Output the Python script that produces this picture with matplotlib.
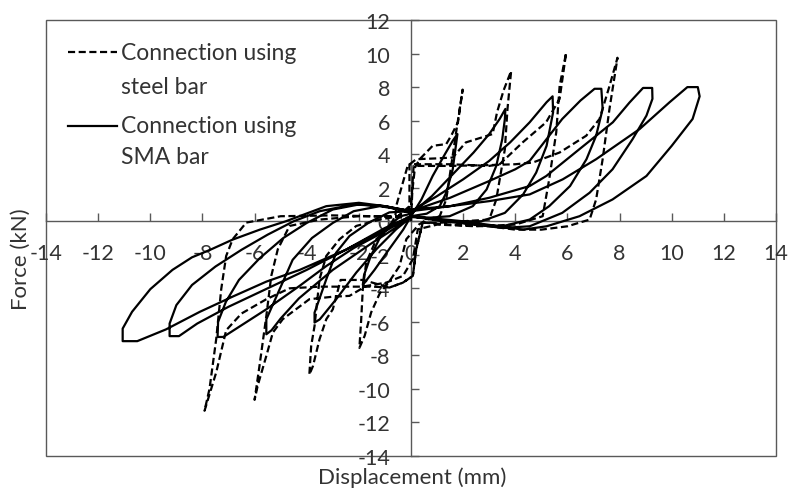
import matplotlib
matplotlib.use('Agg')
import matplotlib.pyplot as plt
from matplotlib.patches import Rectangle

plt.rcParams['font.family']=['Lato','DejaVu Sans']

#SMA bar connection, one list pair per cycle (displacement mm, force kN)
sma_c1_x=[0,0.4,0.83,1.3,1.6,1.78, 1.6,1.35,1.1,0.6,0, -0.3,-0.9,-1.4,-1.7,-1.85, -1.8,-1.55,-1.2,-0.8,-0.4,0]
sma_c1_y=[0.3,1.3,2.7,4.0,4.8,5.2, 3.1,1.7,0.9,0.45,0.3, -0.5,-1.8,-2.9,-3.5,-3.8, -3.2,-2.1,-1.0,-0.2,0.3,0.45]

sma_c2_x=[0.8,1.6,2.4,3.0,3.4,3.62, 3.6,3.5,3.27,2.9,2.37,1.48,0.6,0, -0.57,-1.33,-2.1,-2.87,-3.5,-3.7, -3.7,-3.25,-2.87,-2.36,-1.6,-0.83,0]
sma_c2_y=[1.5,2.8,4.1,5.2,6.1,6.7, 6.1,4.9,3.3,1.9,0.9,0.3,0.2,0.25, -0.48,-1.67,-3.06,-4.65,-5.85,-6.04, -5.45,-3.46,-1.87,-0.88,-0.06,0.53,0.6]

sma_c3_x=[1.0,2.0,3.0,3.8,4.55,4.93,5.2,5.43, 5.45,5.3,5.2,4.8,4.3,3.6,2.7,1.5,0.5,0, -0.6,-1.5,-3.0,-4.3,-5.0,-5.35,-5.55, -5.55,-5.04,-4.54,-3.8,-3.0,-2.2,-1.2,0]
sma_c3_y=[1.5,2.5,3.6,4.7,5.9,6.6,7.1,7.45, 6.5,5.3,4.5,2.9,1.6,0.5,0.0,0.0,0.2,0.3, -0.4,-1.3,-2.9,-4.6,-5.8,-6.5,-6.74, -5.85,-4.05,-2.3,-1.0,-0.1,0.6,0.9,0.6]

sma_c4_x=[1.5,3.0,4.0,4.55,5.2,5.8,6.5,7.04,7.3, 7.35,7.1,6.73,6.1,5.3,4.55,3.5,2.5,1.2,0, -1.0,-2.2,-3.25,-4.28,-5.55,-6.84,-7.2,-7.42, -7.4,-7.1,-6.6,-5.8,-4.9,-4.0,-3.0,-2.0,-1.0,0]
sma_c4_y=[1.4,2.4,3.1,3.6,4.9,6.1,7.2,7.9,7.9, 6.7,5.1,3.7,2.1,0.9,0.1,-0.3,-0.2,0.0,0.3, -0.6,-1.6,-2.67,-3.86,-5.25,-6.54,-6.9,-6.9, -6.0,-4.8,-3.5,-2.2,-1.0,-0.1,0.7,1.0,0.9,0.6]

sma_c5_x=[1.5,3.0,4.55,5.19,6.46,7.74,8.38,8.9,9.25, 9.26,9.03,8.5,7.73,6.85,5.8,4.55,3.5,2.0,0, -1.0,-2.5,-4.0,-5.5,-7.0,-8.2,-8.9,-9.26, -9.26,-9.0,-8.4,-7.5,-6.5,-5.5,-4.5,-3.5,-2.2,-1.0,0]
sma_c5_y=[0.9,1.4,2.1,2.7,4.3,5.9,7.08,7.95,7.95, 7.3,6.3,4.9,3.1,1.7,0.5,-0.3,-0.4,-0.1,0.3, -0.5,-1.7,-2.9,-4.0,-5.1,-6.1,-6.85,-6.85, -6.1,-5.0,-3.8,-2.7,-1.7,-0.8,0.0,0.6,1.0,0.9,0.6]

sma_c6_x=[0,1.5,3.0,4.55,5.82,7.1,8.77,9.92,10.6,11.0, 11.07,10.8,10.0,9.03,7.73,6.46,5.2,4.3,3.4,2.0,0, -1.0,-2.5,-4.27,-5.55,-6.85,-8.1,-9.4,-10.5,-11.06, -11.06,-10.7,-10.0,-9.15,-8.4,-7.7,-6.85,-5.8,-4.8,-3.25,-2.0,-1.0,0]
sma_c6_y=[0.7,0.9,1.2,1.6,2.5,3.7,5.5,7.1,8.0,8.0, 7.45,6.1,4.5,2.7,1.3,0.3,-0.3,-0.5,-0.3,0.0,0.3, -0.4,-1.7,-2.9,-3.6,-4.5,-5.4,-6.45,-7.15,-7.15, -6.4,-5.4,-4.05,-2.9,-2.15,-1.7,-1.1,-0.5,0.0,0.9,1.1,0.9,0.5]

#steel bar connection
steel_c1_x=[0,0.05,0.15,0.33,0.83,1.35,1.54,1.8,1.98, 1.73,1.54,1.35,1.1,0.6,0.3,-0.18,-0.44,-0.82,-1.2,-1.53,-1.78,-1.98, -1.91,-1.85,-1.72,-1.33,-0.82,-0.6]
steel_c1_y=[0,1.8,3.2,3.7,4.5,4.6,5.1,5.9,7.85, 5.3,3.3,1.3,0.3,0.1,-0.2,-1.07,-2.67,-3.56,-4.3,-5.44,-6.84,-7.55, -5.84,-4.05,-2.47,-1.07,-0.28,0.3]

steel_c2_x=[-0.57,-0.13,0.2,1.0,1.6,2.1,3.13,3.3,3.55,3.84, 3.7,3.6,3.27,3.0,2.0,1.0,0.45,0.2,0.07,-0.31,-0.82,-1.85,-2.7,-3.0,-3.25,-3.51,-3.76,-3.9, -3.83,-3.7,-3.51,-3.25,-2.74,-2.1,-1.2,-0.5,-0.06]
steel_c2_y=[0.9,3.3,3.7,3.75,3.8,4.7,5.2,6.5,7.8,8.96, 6.7,4.3,1.3,0.1,0.0,-0.1,-0.08,-1.67,-3.26,-3.66,-3.95,-3.5,-3.5,-5.25,-5.84,-7.04,-8.63,-9.15, -7.44,-6.24,-3.46,-2.07,-1.07,-0.28,0.1,0.3,0.9]

steel_c3_x=[-0.06,1.5,3.0,3.4,4.28,5.18,5.7,5.95, 5.7,5.57,5.3,5.05,4.0,2.5,1.0,0.26,0.07,-0.31,-0.95,-1.72,-2.36,-3.0,-3.9,-4.92,-5.3,-5.55,-5.88,-6.0, -5.81,-5.55,-5.36,-5.11,-4.66,-3.5,-2.0,-0.5,0]
steel_c3_y=[3.4,3.4,3.3,3.4,4.7,5.9,7.3,10.05, 8.07,5.3,2.5,0.3,-0.2,-0.3,-0.2,-0.48,-2.27,-3.26,-3.66,-3.86,-4.45,-4.5,-4.65,-5.84,-6.64,-8.03,-9.8,-10.65, -8.6,-5.65,-3.26,-1.67,-0.28,0.1,0.3,0.3,0.8]

steel_c4_x=[0.1,1.5,3.0,4.0,4.67,5.7,6.72,7.23,7.6,7.92, 7.61,7.35,7.1,6.85,6.0,5.0,4.0,3.0,1.5,0.45,0.2,0.07,-0.31,-0.82,-1.5,-2.5,-3.5,-4.66,-5.55,-6.5,-7.09,-7.47,-7.92, -7.73,-7.47,-7.28,-7.09,-6.84,-6.32,-5.0,-3.0,-1.5,0]
steel_c4_y=[3.3,3.3,3.35,3.4,3.5,4.1,5.1,6.1,8.0,9.75, 6.68,3.7,1.3,0.1,-0.3,-0.5,-0.5,-0.3,-0.2,-0.08,-1.67,-3.26,-3.66,-3.95,-3.9,-3.9,-3.9,-4.0,-4.65,-5.5,-6.5,-9.0,-11.3, -10.0,-7.0,-4.05,-2.07,-1.07,-0.08,0.3,0.35,0.3,0.2]

legend_labels=[['Connection using','steel bar'],['Connection using','SMA bar']]

x_ticks=list(range(-14,15,2))
y_ticks=list(range(-14,13,2))

frame_color='#595959'
text_color='#333333'

fig=plt.figure(figsize=(7.88,4.89),dpi=100)
ax=fig.add_axes([0.0584,0.0654,0.9264,0.8916])

#whole hysteresis paths
sma_x=sma_c1_x+sma_c2_x+sma_c3_x+sma_c4_x+sma_c5_x+sma_c6_x
sma_y=sma_c1_y+sma_c2_y+sma_c3_y+sma_c4_y+sma_c5_y+sma_c6_y
steel_x=steel_c1_x+steel_c2_x+steel_c3_x+steel_c4_x
steel_y=steel_c1_y+steel_c2_y+steel_c3_y+steel_c4_y

dash_style=(0,(3.2,1.6))

ax.plot(steel_x,steel_y,color='black',lw=1.6,linestyle=dash_style,zorder=3)
ax.plot(sma_x,sma_y,color='black',lw=1.6,zorder=3)

ax.set_xlim(-14,14)
ax.set_ylim(-14,12)

#axes crossing at origin
ax.spines['left'].set_position(('data',0))
ax.spines['bottom'].set_position(('data',0))
ax.spines['top'].set_visible(False)
ax.spines['right'].set_visible(False)
for side in ['left','bottom']:
    ax.spines[side].set_color(frame_color)
    ax.spines[side].set_linewidth(1.0)

#plot area border
ax.add_patch(Rectangle((0,0),1,1,transform=ax.transAxes,fill=False,
                       edgecolor=frame_color,linewidth=1.0,clip_on=False,zorder=1))

ax.set_xticks(x_ticks)
ax.set_yticks(y_ticks)
ax.set_xticklabels([str(v) for v in x_ticks])
ax.set_yticklabels([str(v) for v in y_ticks])
ax.tick_params(axis='x',direction='in',length=6,width=1,color=frame_color,
               labelsize=15.5,labelcolor=text_color,pad=15.5)
ax.tick_params(axis='y',direction='in',length=6,width=1,color=frame_color,
               labelsize=15.5,labelcolor=text_color,pad=15)

ax.set_xlabel('Displacement (mm)',fontsize=16,color=text_color,va='center')
ax.set_ylabel('Force (kN)',fontsize=16,color=text_color,va='center')
ax.xaxis.set_label_coords(0.501,-0.047)
ax.yaxis.set_label_coords(-0.034,0.454)

#legend drawn by hand so the handle sits on the first text line
handle_styles=[dash_style,'-']
row_y=[[0.9266,0.8475],[0.7576,0.688]]
for k in range(2):
    ax.plot([0.0301,0.0973],[row_y[k][0],row_y[k][0]],transform=ax.transAxes,
            color='black',lw=1.6,linestyle=handle_styles[k],clip_on=False)
    for j in range(2):
        ax.text(0.1027,row_y[k][j],legend_labels[k][j],transform=ax.transAxes,
                fontsize=16.5,color=text_color,ha='left',va='center')

plt.savefig('out.png',dpi=100)
